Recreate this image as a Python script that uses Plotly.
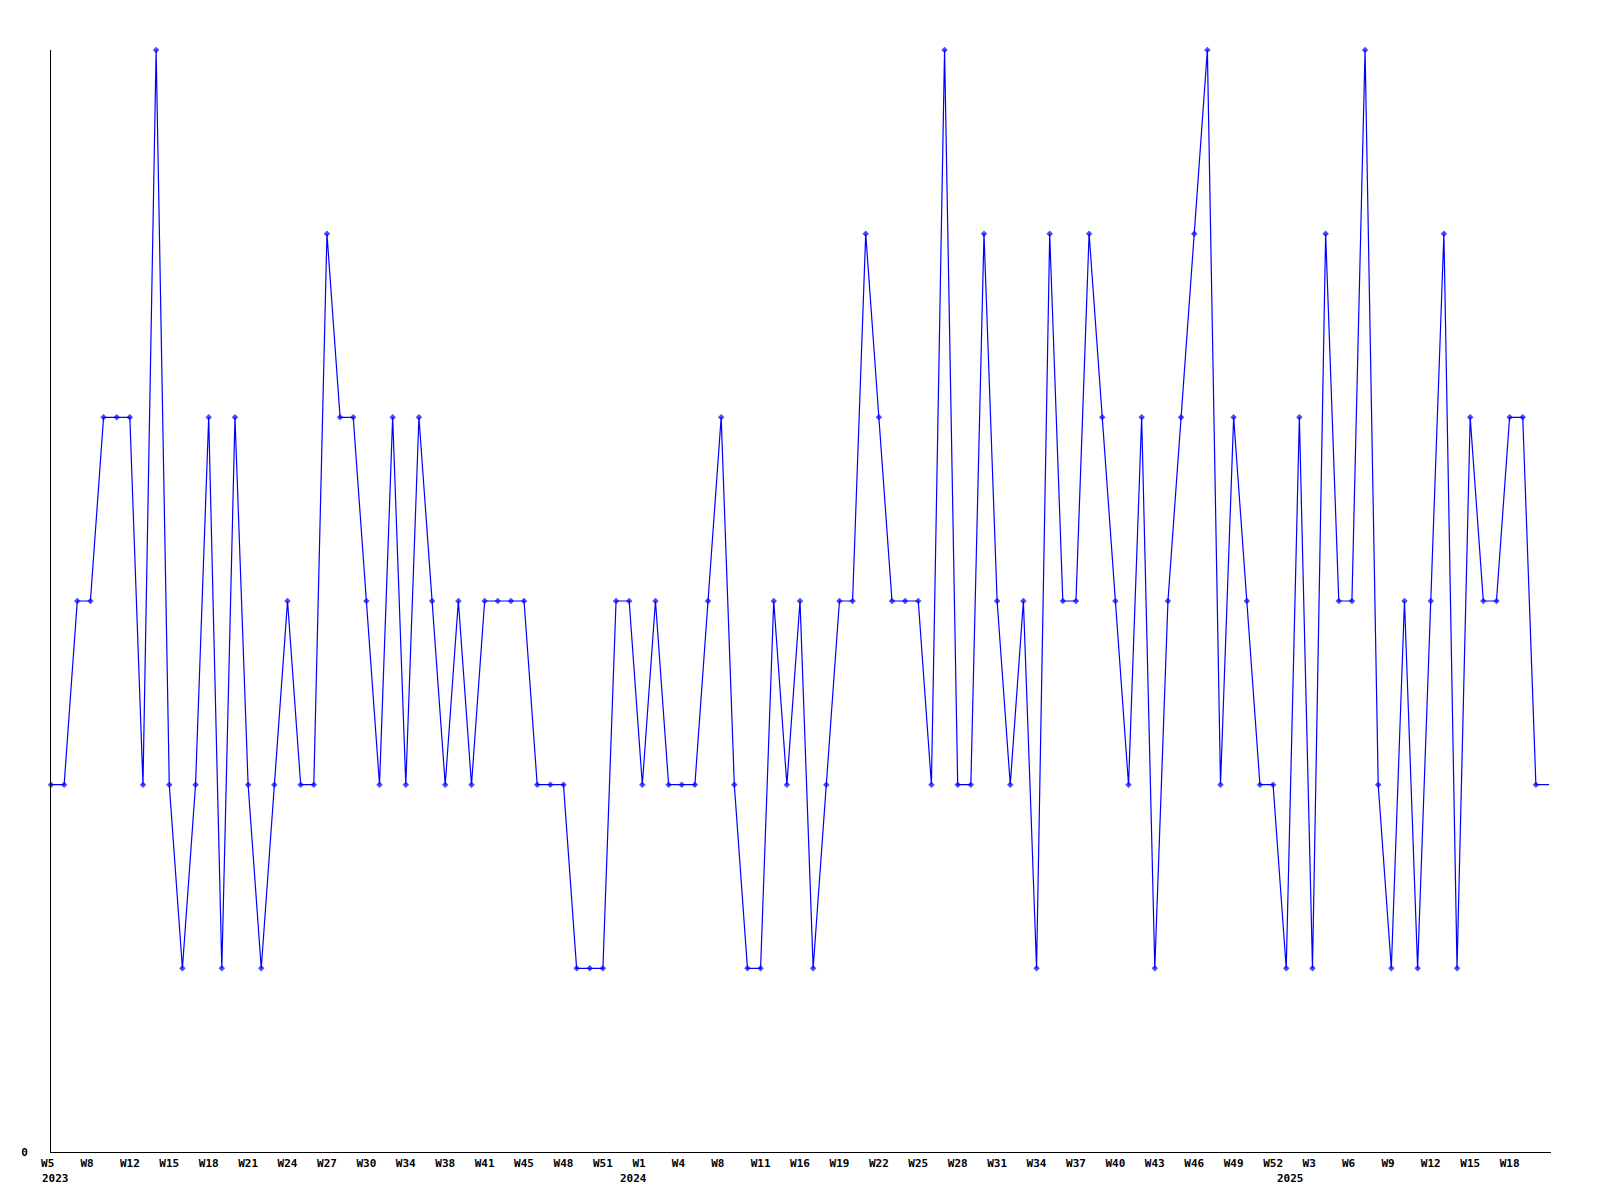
import plotly.graph_objects as go

# Weekly values (one point per week bucket)
values = [
    2, 2, 3, 3, 4, 4, 4, 2, 6, 2, 1, 2, 4, 1, 4, 2, 1, 2, 3, 2,
    2, 5, 4, 4, 3, 2, 4, 2, 4, 3, 2, 3, 2, 3, 3, 3, 3, 2, 2, 2,
    1, 1, 1, 3, 3, 2, 3, 2, 2, 2, 3, 4, 2, 1, 1, 3, 2, 3, 1, 2,
    3, 3, 5, 4, 3, 3, 3, 2, 6, 2, 2, 5, 3, 2, 3, 1, 5, 3, 3, 5,
    4, 3, 2, 4, 1, 3, 4, 5, 6, 2, 4, 3, 2, 2, 1, 4, 1, 5, 3,
    3, 6, 2, 1, 3, 1, 3, 5, 1, 4, 3, 3, 4, 4, 2,
    2,  # current (incomplete) week, drawn without a marker
]

# Tick labels, one every third week bucket
tick_labels = [
    "W5", "W8", "W12", "W15", "W18", "W21", "W24", "W27", "W30", "W34",
    "W38", "W41", "W45", "W48", "W51", "W1", "W4", "W8", "W11", "W16",
    "W19", "W22", "W25", "W28", "W31", "W34", "W37", "W40", "W43", "W46",
    "W49", "W52", "W3", "W6", "W9", "W12", "W15", "W18",
]
tick_step = 3

# Year labels and the week bucket where each year starts
year_labels = ["2023", "2024", "2025"]
year_start_index = [0, 44, 94]

FONT = dict(family="DejaVu Sans Mono", size=11, color="black", weight="bold")

x = list(range(len(values)))
marker_sizes = [5] * (len(values) - 1) + [0]

fig = go.Figure()
fig.add_trace(go.Scatter(
    x=x, y=values,
    mode="lines+markers",
    line=dict(color="#0000ff", width=1.2),
    marker=dict(symbol="diamond", size=marker_sizes, color="#0000ff",
                line=dict(width=0)),
    cliponaxis=False,
    hoverinfo="x+y",
    showlegend=False,
))

tickvals = [i * tick_step for i in range(len(tick_labels))]
ticktext = [t if len(t) >= 3 else t + "\u00a0" for t in tick_labels]

for label, idx in zip(year_labels, year_start_index):
    fig.add_annotation(
        x=idx, y=0, xref="x", yref="y",
        text=label, showarrow=False,
        xanchor="left", yanchor="top",
        xshift=-11, yshift=-18,
        font=FONT,
    )

fig.update_layout(
    width=1584, height=1184,
    margin=dict(l=43, r=41, t=42, b=40),
    paper_bgcolor="white",
    plot_bgcolor="white",
    font=FONT,
    xaxis=dict(
        range=[0, len(values) - 1 + 0.15],
        tickvals=tickvals, ticktext=ticktext,
        tickangle=0,
        showline=True, linecolor="black", linewidth=1,
        showgrid=False, zeroline=False, ticks="",
        ticklabelstandoff=1,
        tickfont=FONT,
    ),
    yaxis=dict(
        range=[0, 6],
        tickvals=[0], ticktext=["0"],
        showline=True, linecolor="black", linewidth=1,
        showgrid=False, zeroline=False, ticks="",
        ticklabelstandoff=20,
        tickfont=FONT,
    ),
)

fig.write_html("out.html")
